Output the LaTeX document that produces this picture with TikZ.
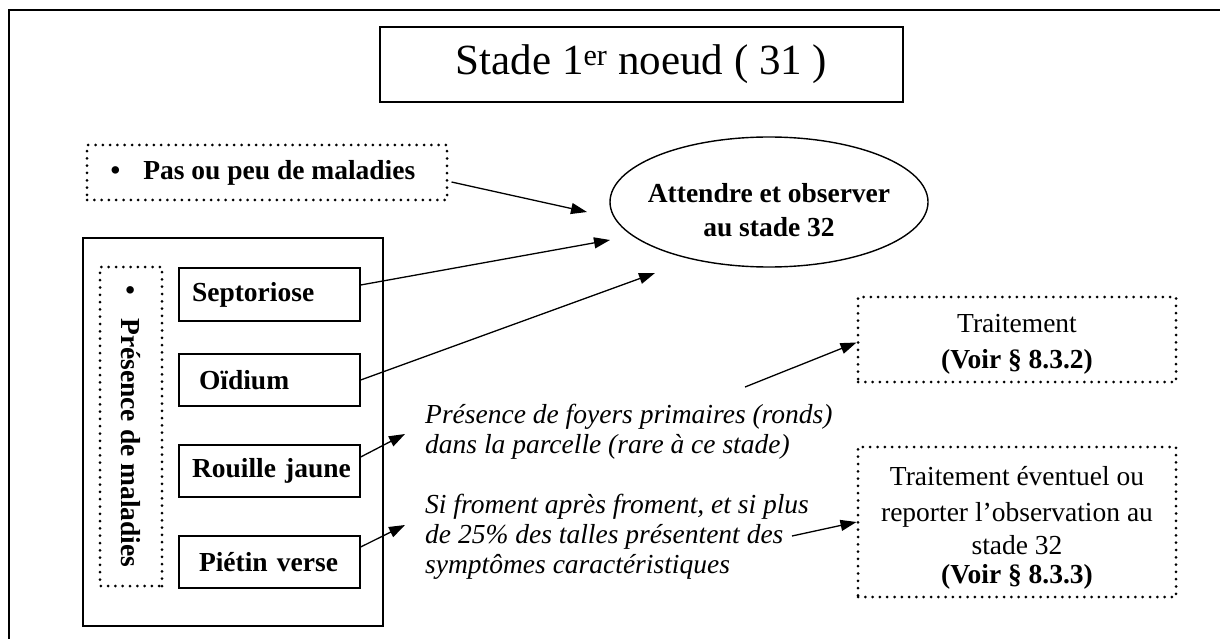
\documentclass[tikz,border=0pt]{standalone}
\usepackage{fontspec}
\setmainfont{Liberation Serif}
\usetikzlibrary{arrows.meta,shapes.geometric}
\newcommand\corps{\fontsize{27.5pt}{30pt}\selectfont}
\newcommand\puce{\textbullet\hspace{23pt}}

\begin{document}
\begin{tikzpicture}[x=1pt,y=-1pt,
  cadre/.style={draw=black,line width=1.3pt},
  pointille/.style={draw=black,line width=3pt,line cap=round,dash pattern=on 0pt off 7.3pt},
  maladie/.style={cadre,minimum height=52pt,text width=168pt,inner xsep=6.5pt,align=left,
    font=\corps\bfseries,execute at begin node={\hspace*{6.5pt}}},
  avis/.style={pointille,minimum width=318pt,align=center,font=\corps},
  remarque/.style={font=\corps\itshape,align=left,anchor=west,inner sep=0pt},
  fleche/.style={-{Triangle[length=16pt,width=11pt]},line width=1.3pt}
]
\useasboundingbox (0,0) rectangle (1220,639);

% Page frame, open on the right and at the bottom.
\draw[line width=1.8pt] (1220,10) -- (9,10) -- (9,639);

% Title
\node[cadre,line width=2pt,minimum width=523pt,minimum height=75pt,font=\fontsize{43pt}{48pt}\selectfont] (titre) at (641.5,64.5) {Stade 1\textsuperscript{er} noeud ( 31 )};

% Decision: wait and observe
\node[ellipse,draw,line width=1.4pt,minimum width=318pt,minimum height=130pt,inner sep=0pt,
  label={[font=\corps\bfseries,align=center,yshift=-8pt]center:{Attendre et observer\\[4pt]au stade 32}}] (attendre) at (769,202) {};

% No disease
\node[pointille,minimum width=360pt,minimum height=55pt,font=\corps\bfseries] (pas) at (267,172.5) {\puce Pas ou peu de maladies\hspace*{8pt}};

% Diseases present: frame, vertical heading and one box per disease
\node[cadre,minimum width=300pt,minimum height=388pt] (groupe) at (233,432) {};
\node[pointille,rotate=-90,minimum width=319pt,minimum height=62pt,font=\corps\bfseries] (presence) at (131,426.5) {\puce Présence de maladies};
\node[maladie,minimum height=53pt] (septoriose) at (269.5,294.5) {Septoriose};
\node[maladie] (oidium) at (269.5,380) {\hspace*{7pt}Oïdium};
\node[maladie] (rouille) at (269.5,471) {Rouille jaune};
\node[maladie] (pietin) at (269.5,562) {\hspace*{7pt}Piétin verse};

% Conditions
\node[remarque] (foyers) at (425,432) {Présence de foyers primaires (ronds)\\dans la parcelle (rare à ce stade)};
\node[remarque] (froment) at (425,537) {Si froment après froment, et si plus\\de 25\% des talles présentent des\\symptômes caractéristiques};

% Treatments
\node[avis,minimum height=85pt] (traitA) at (1017,339.5) {\rule{0pt}{27pt}Traitement\\[6pt]\textbf{(Voir § 8.3.2)}};
\node[avis,minimum height=150pt] (traitB) at (1017,522) {\rule{0pt}{31pt}Traitement éventuel ou\\[6pt]reporter l’observation au\\[3pt]stade 32\\[-1pt]\textbf{(Voir § 8.3.3)}};

% Free arrow ends
\coordinate (pasFin) at (587,212);
\coordinate (septFin) at (610,240);
\coordinate (oidFin) at (655,273);
\coordinate (rouilleFin) at (405,434);
\coordinate (pietinFin) at (405,525);
\coordinate (foyersDebut) at (745,387);
\coordinate (fromentDebut) at (792,536);

\draw[fleche] ([xshift=3pt,yshift=-9.5pt]pas.east) -- (pasFin);
\draw[fleche] ([yshift=9.5pt]septoriose.east) -- (septFin);
\draw[fleche] (oidium.east) -- (oidFin);
\draw[fleche] ([yshift=14pt]rouille.east) -- (rouilleFin);
\draw[fleche] ([yshift=15pt]pietin.east) -- (pietinFin);
\draw[fleche] (foyersDebut) -- ([yshift=-3pt]traitA.west);
\draw[fleche] (fromentDebut) -- (traitB.west);
\end{tikzpicture}
\end{document}
